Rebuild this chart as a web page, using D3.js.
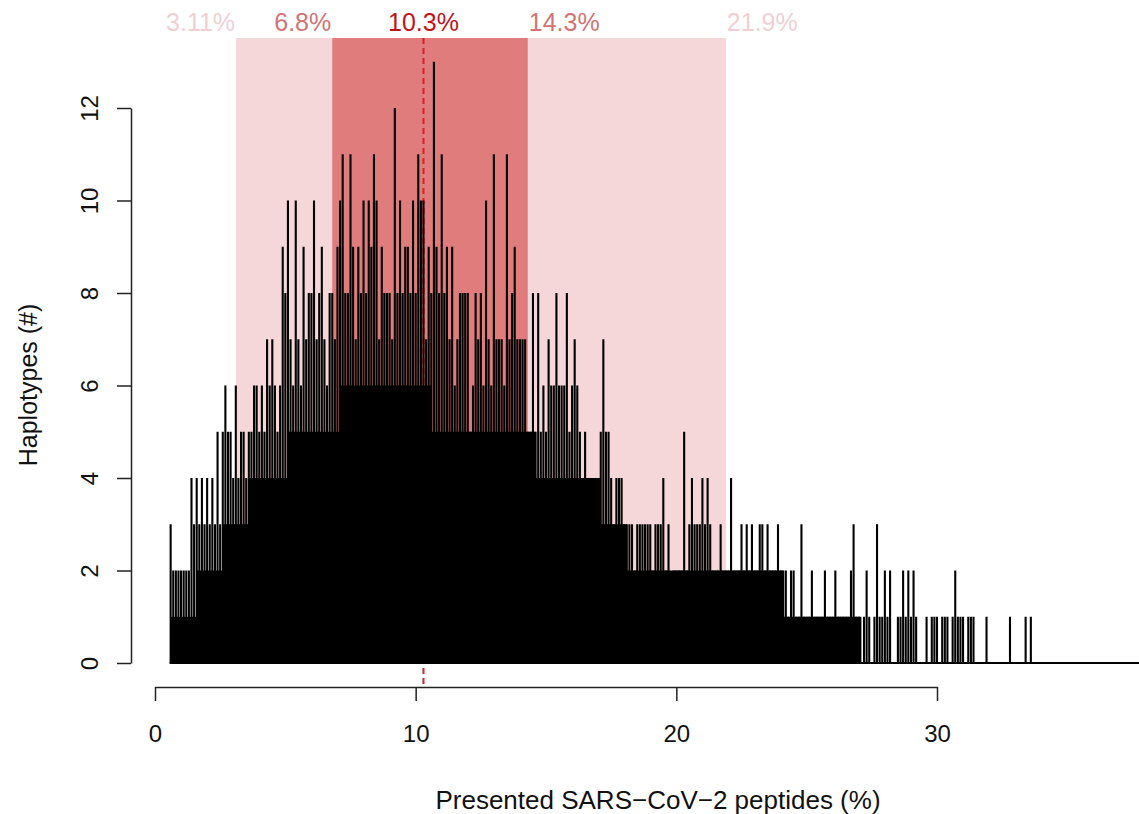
<!DOCTYPE html>
<html>
<head>
<meta charset="utf-8">
<script src="https://cdn.jsdelivr.net/npm/d3@7/dist/d3.min.js"></script>
<style>
  html, body { margin: 0; padding: 0; background: #fff; }
  svg { display: block; }
  text { font-family: "Liberation Sans", Arial, Helvetica, sans-serif; }
</style>
</head>
<body>
<svg id="chart" width="1139" height="814"></svg>
<script>
// ---------------- data ----------------
// spike heights (number of haplotypes), x from 0.6 % in steps of 0.1 %
const spikeStart = 0.6;
const spikeStep = 0.1;
const spikesA = [ // 0.6 – 9.9
  3,2,2,2,
  2,2,2,2,4,3,4,3,4,3,
  4,3,4,3,5,3,5,6,5,5,
  4,6,4,5,5,4,5,5,6,6,
  5,6,5,7,6,7,6,5,6,9,
  8,10,7,6,10,7,6,9,7,8,
  8,10,7,8,9,7,6,8,8,7,
  9,10,11,8,8,11,9,7,9,8,
  10,8,10,9,11,10,7,9,8,8,
  8,7,12,8,10,8,9,9,8,10
];
const spikesB = [ // 10.0 – 19.9
  8,11,10,10,7,9,8,13,9,8,
  11,8,9,7,9,6,7,8,8,8,
  8,5,6,8,7,8,6,10,7,6,
  11,7,7,7,6,11,7,8,9,7,
  7,7,7,5,5,8,5,8,5,6,
  5,7,6,6,8,6,6,6,8,5,
  6,7,6,5,4,5,4,4,4,4,
  4,5,7,5,5,4,3,4,4,4,
  3,3,3,3,2,3,3,3,3,3,
  3,2,3,3,3,4,2,3,1,2
];
const spikesC = [ // 20.0 – 33.6
  2,2,2,5,2,3,4,3,3,3,
  4,3,4,3,2,2,2,3,2,2,
  2,4,2,2,2,3,2,3,2,3,
  2,2,3,3,2,3,2,2,2,3,
  2,2,2,1,2,2,1,1,3,1,
  1,1,2,1,1,1,1,2,1,1,
  1,2,1,1,1,1,1,2,3,1,
  1,0,1,2,1,0,1,3,1,1,
  2,1,2,0,0,1,1,2,1,2,
  1,2,1,0,0,0,1,0,1,1,
  1,0,1,1,1,0,1,2,1,1,
  1,0,1,1,1,0,0,0,0,1,
  0,0,0,0,0,0,0,0,1,0,
  0,0,0,0,1,0,1
];
// solid (densely filled) level, x from 0.6 % in steps of 0.5 %
const floorStart = 0.6;
const floorStep = 0.5;
const floorLevels = [
  1,1,2,2,3,3,4,4,4,5,5,5,5,6,6,6,6,6,6,6,
  5,5,5,5,5,5,5,5,4,4,4,4,4,3,3,2,2,2,2,2,
  2,2,2,2,2,2,2,1,1,1,1,1,1,0,0,0,0,0,0,0,
  0,0,0,0,0,0
];
// interval bands and median
const outerBand = [3.11, 21.9];
const innerBand = [6.8, 14.3];
const medianValue = 10.3;
const bandLabels = ["3.11%", "6.8%", "10.3%", "14.3%", "21.9%"];
const bandLabelValues = [3.11, 6.8, 10.3, 14.3, 21.9];
const xTicks = [0, 10, 20, 30];
const yTicks = [0, 2, 4, 6, 8, 10, 12];
const xTitle = "Presented SARS\u2212CoV\u22122 peptides (%)";
const yTitle = "Haplotypes (#)";

// ---------------- drawing ----------------
const svg = d3.select("#chart");
const x = d3.scaleLinear().domain([0, 30]).range([155, 937]);
const y = d3.scaleLinear().domain([0, 12]).range([663, 108]);
const bandTop = 38;

const spikes = spikesA.concat(spikesB, spikesC).map((v, i) => ({
  x: +(spikeStart + i * spikeStep).toFixed(2), v
}));
const floors = floorLevels.map((v, i) => ({
  x0: floorStart + i * floorStep, x1: floorStart + (i + 1) * floorStep, v
}));

// bands
svg.append("rect")
  .attr("x", x(outerBand[0])).attr("y", bandTop)
  .attr("width", x(outerBand[1]) - x(outerBand[0]))
  .attr("height", y(0) - bandTop)
  .attr("fill", "#f5d6d9");
svg.append("rect")
  .attr("x", x(innerBand[0])).attr("y", bandTop)
  .attr("width", x(innerBand[1]) - x(innerBand[0]))
  .attr("height", y(0) - bandTop)
  .attr("fill", "#e07c7c");

// median dashed line
svg.append("line")
  .attr("x1", x(medianValue)).attr("x2", x(medianValue))
  .attr("y1", bandTop).attr("y2", 688)
  .attr("stroke", "#d81e2a").attr("stroke-width", 2)
  .attr("stroke-dasharray", "6,4");

// band labels
const labelColors = ["#f0cfd3", "#d07476", "#c0141c", "#d07476", "#f0cfd3"];
const labelAnchors = ["end", "end", "middle", "start", "start"];
svg.selectAll("text.blab").data(bandLabels).enter().append("text")
  .attr("class", "blab")
  .attr("x", (d, i) => x(bandLabelValues[i]) + (labelAnchors[i] === "end" ? -1 : labelAnchors[i] === "start" ? 1 : 0))
  .attr("y", 31)
  .attr("text-anchor", (d, i) => labelAnchors[i])
  .attr("font-size", 25)
  .attr("fill", (d, i) => labelColors[i])
  .text(d => d);

// solid filled part
svg.append("g").selectAll("rect").data(floors.filter(d => d.v > 0)).enter().append("rect")
  .attr("x", d => x(d.x0))
  .attr("width", d => x(d.x1) - x(d.x0))
  .attr("y", d => y(d.v))
  .attr("height", d => y(0) - y(d.v))
  .attr("fill", "#000");

// spikes
svg.append("g").selectAll("line").data(spikes.filter(d => d.v > 0)).enter().append("line")
  .attr("x1", d => x(d.x)).attr("x2", d => x(d.x))
  .attr("y1", y(0)).attr("y2", d => y(d.v))
  .attr("stroke", "#000").attr("stroke-width", 2.1);

// baseline
svg.append("line")
  .attr("x1", x(spikeStart) - 1).attr("x2", 1139)
  .attr("y1", y(0)).attr("y2", y(0))
  .attr("stroke", "#000").attr("stroke-width", 2);

// x axis
const xAxis = svg.append("g")
  .attr("transform", "translate(0,687)")
  .call(d3.axisBottom(x).tickValues(xTicks).tickSize(14).tickSizeOuter(0).tickPadding(24).tickFormat(d3.format("d")));
xAxis.selectAll("path,line").attr("stroke", "#222").attr("stroke-width", 1.5);
xAxis.selectAll("text").attr("font-size", 24).attr("fill", "#111")
  .attr("font-family", "Liberation Sans, Arial, sans-serif");

// y axis
const yAxis = svg.append("g")
  .attr("transform", "translate(131,0)")
  .call(d3.axisLeft(y).tickValues(yTicks).tickSize(14).tickSizeOuter(0).tickFormat(d3.format("d")));
yAxis.selectAll("path,line").attr("stroke", "#222").attr("stroke-width", 1.5);
yAxis.selectAll("text")
  .attr("x", null).attr("dy", null)
  .attr("transform", "translate(-42,0) rotate(-90)")
  .attr("text-anchor", "middle")
  .attr("dominant-baseline", "central")
  .attr("font-size", 24).attr("fill", "#111")
  .attr("font-family", "Liberation Sans, Arial, sans-serif");

// axis titles
svg.append("text")
  .attr("x", 658).attr("y", 809)
  .attr("text-anchor", "middle")
  .attr("font-size", 26).attr("fill", "#111")
  .text(xTitle);
svg.append("text")
  .attr("transform", "translate(28,385) rotate(-90)")
  .attr("text-anchor", "middle")
  .attr("dominant-baseline", "central")
  .attr("font-size", 25).attr("fill", "#111")
  .text(yTitle);
</script>
</body>
</html>
